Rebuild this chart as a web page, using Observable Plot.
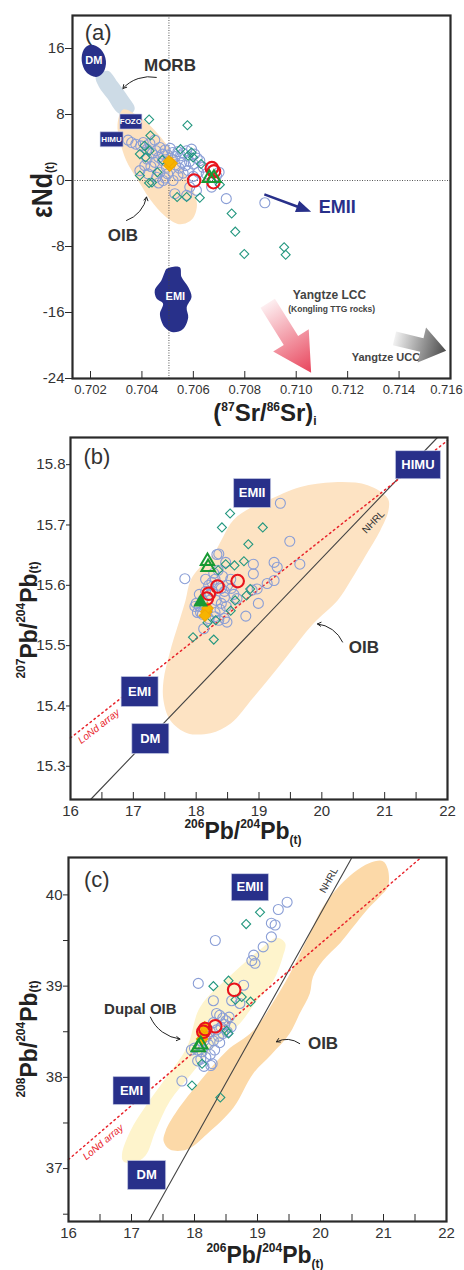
<!DOCTYPE html>
<html><head><meta charset="utf-8">
<script src="https://cdn.jsdelivr.net/npm/d3@7"></script>
<script src="https://cdn.jsdelivr.net/npm/@observablehq/plot@0.6"></script>
<style>
body{margin:0;background:#fff;}
#chart{position:relative;width:464px;height:1270px;background:#fff;}
#chart svg{display:block;}
</style></head><body><div id="chart"></div>
<script>
// ---------------- DATA ----------------
// Panel (a): (87Sr/86Sr)i vs εNd(t)
const A_xTicks = [0.702,0.704,0.706,0.708,0.710,0.712,0.714,0.716];
const A_yTicks = [16,8,0,-8,-16,-24];
const A_circles = [[0.70346,4.9],[0.70360,4.6],[0.70376,4.4],[0.70395,4.2],[0.70405,4.6],[0.70431,4.5],[0.70450,4.9],[0.70420,3.8],[0.70440,3.3],[0.70455,3.6],[0.70470,4.0],[0.70480,3.2],[0.70490,3.7],[0.70500,3.1],[0.70510,3.9],[0.70520,3.4],[0.70530,2.9],[0.70540,3.5],[0.70550,3.0],[0.70560,3.3],[0.70574,3.6],[0.70593,3.8],[0.70605,3.2],[0.70615,2.7],[0.70625,2.4],[0.70638,1.6],[0.70600,2.0],[0.70585,2.3],[0.70570,1.8],[0.70555,2.2],[0.70545,1.5],[0.70530,1.9],[0.70520,2.5],[0.70505,2.2],[0.70495,1.6],[0.70480,2.4],[0.70465,2.8],[0.70450,2.2],[0.70435,1.7],[0.70420,2.6],[0.70411,1.8],[0.70392,1.2],[0.70424,0.8],[0.70457,0.4],[0.70482,0.0],[0.70470,1.0],[0.70500,0.8],[0.70521,0.0],[0.70540,0.6],[0.70560,0.9],[0.70580,1.2],[0.70600,0.5],[0.70620,1.0],[0.70650,0.8],[0.70690,0.6],[0.70700,1.0],[0.70671,-0.8],[0.70612,-1.2],[0.70586,-0.8],[0.70574,-1.8],[0.70528,-1.6],[0.70728,-2.2],[0.70878,-2.7],[0.70490,0.3],[0.70465,-0.3]];
const A_diamonds = [[0.70428,7.4],[0.70577,6.7],[0.70433,5.45],[0.70392,3.2],[0.70414,2.8],[0.70392,0.6],[0.70428,-0.3],[0.70439,-0.25],[0.70593,3.4],[0.70599,2.8],[0.70703,-0.5],[0.70537,-2.0],[0.70574,-2.0],[0.70625,-2.1],[0.70749,-4.0],[0.70763,-6.2],[0.70798,-8.9],[0.70953,-8.1],[0.70959,-9.0],[0.70410,4.2],[0.70430,3.6],[0.70480,2.5],[0.70550,3.8],[0.70580,3.0],[0.70630,2.0],[0.70460,1.0]];
const A_red = [[0.70603,0.0],[0.70672,1.5],[0.70680,1.1],[0.70678,-0.2]];
const A_triangles = [[0.70662,0.3],[0.70680,0.3]];
const A_orange = [[0.70508,1.8],[0.70515,2.1],[0.70505,2.3]];
const A_srRef = 0.70505;
const A_MORB = [[0.70221,12.6],[0.70267,13.3],[0.70306,11.9],[0.70345,10.2],[0.70372,8.7],[0.70345,7.8],[0.70306,8.2],[0.70267,9.9],[0.70232,11.4]];
const A_OIB = [[0.70327,8.6],[0.70380,7.9],[0.70440,6.4],[0.70500,4.2],[0.70550,1.8],[0.70595,-0.8],[0.70614,-3.0],[0.70595,-4.7],[0.70550,-5.3],[0.70497,-4.5],[0.70444,-2.8],[0.70385,0.0],[0.70338,2.5],[0.70315,4.8],[0.70305,6.8]];
const A_DM = [[0.70200,16.44],[0.70240,15.9],[0.70260,14.5],[0.70250,13.13],[0.70222,12.56],[0.70184,13.13],[0.70166,14.5],[0.70174,15.87]];
const A_EMI = [[0.70496,-10.7],[0.70547,-10.5],[0.70554,-11.7],[0.70580,-12.9],[0.70593,-14.1],[0.70574,-15.4],[0.70580,-16.6],[0.70560,-18.0],[0.70521,-18.4],[0.70489,-17.8],[0.70470,-16.2],[0.70482,-14.9],[0.70457,-14.3],[0.70450,-13.3],[0.70476,-12.1],[0.70489,-11.1]];
const A_labels = [
  {x:0.70230,y:17.9,t:"(a)",size:22,weight:"normal",fill:"#333"},
  {x:0.70509,y:13.9,t:"MORB",size:17,weight:"bold",fill:"#333"},
  {x:0.70326,y:-6.7,t:"OIB",size:17,weight:"bold",fill:"#333"},
  {x:0.71160,y:-3.2,t:"EMII",size:18,weight:"bold",fill:"#28308a"},
  {x:0.71129,y:-13.85,t:"Yangtze LCC",size:12,weight:"bold",fill:"#444"},
  {x:0.71138,y:-15.55,t:"(Kongling TTG rocks)",size:8.5,weight:"bold",fill:"#444"},
  {x:0.71349,y:-21.5,t:"Yangtze UCC",size:11,weight:"bold",fill:"#444"}
];
const A_inLabels = [{x:0.70213,y:14.5,t:"DM"},{x:0.70530,y:-14.1,t:"EMI"}];
const A_boxes = [{x:0.70357,y:7.15,t:"FOZO",w:22,h:15},{x:0.70282,y:5.0,t:"HIMU",w:23,h:15}];
const A_curly = [{x1:0.70456,y1:12.5,x2:0.70326,y2:11.15},{x1:0.70340,y1:-4.85,x2:0.70418,y2:-2.0}];
const A_bigArrows = [
  {x1:0.70878,y1:-1.74,x2:0.71060,y2:-3.84,shaft:2.6,headW:12,headL:15,fill:"#28308a"},
  {x1:0.70891,y1:-14.95,x2:0.71060,y2:-23.35,shaft:17,headW:42,headL:38,fill:"url(#gradLCC)"},
  {x1:0.71384,y1:-19.2,x2:0.71585,y2:-20.7,shaft:14,headW:36,headL:25,fill:"url(#gradUCC)"}
];

// Panel (b): 206Pb/204Pb vs 207Pb/204Pb
const B_xTicks = [16,17,18,19,20,21,22];
const B_xMinor = [16.5,17.5,18.5,19.5,20.5,21.5];
const B_yTicks = [15.3,15.4,15.5,15.6,15.7,15.8];
const B_circles = [[19.34,15.736],[19.49,15.673],[19.65,15.635],[19.24,15.638],[19.29,15.630],[18.91,15.635],[18.91,15.619],[18.33,15.651],[18.47,15.638],[17.82,15.611],[19.24,15.608],[19.13,15.603],[18.97,15.594],[18.89,15.592],[18.99,15.570],[18.79,15.549],[18.49,15.539],[18.12,15.528],[18.36,15.542],[18.00,15.570],[18.05,15.565],[18.10,15.575],[18.15,15.590],[18.20,15.600],[18.25,15.605],[18.30,15.610],[18.35,15.600],[18.40,15.595],[18.45,15.590],[18.50,15.600],[18.55,15.610],[18.28,15.620],[18.22,15.585],[18.32,15.575],[18.40,15.570],[18.45,15.580],[18.38,15.560],[18.30,15.555],[18.18,15.560],[18.10,15.552],[18.02,15.555],[18.60,15.585],[18.65,15.578],[18.42,15.615],[18.35,15.625],[18.26,15.590],[18.15,15.610],[18.05,15.585],[17.98,15.565],[18.48,15.565],[18.56,15.595],[18.36,15.652],[18.07,15.555],[18.20,15.545],[18.30,15.548],[18.45,15.545]];
const B_diamonds = [[18.54,15.719],[18.41,15.696],[19.06,15.696],[18.83,15.668],[18.76,15.640],[18.61,15.633],[18.47,15.635],[18.80,15.583],[18.86,15.594],[18.55,15.558],[18.31,15.542],[18.18,15.538],[17.95,15.514],[18.28,15.510],[18.62,15.575],[18.35,15.625]];
const B_red = [[18.66,15.607],[18.34,15.598],[18.20,15.586],[18.17,15.578]];
const B_triangles = [[18.18,15.640],[18.19,15.630]];
const B_triFilled = [[18.07,15.572]];
const B_orange = [[18.16,15.556],[18.18,15.562],[18.14,15.550]];
const B_OIB = [[17.83,15.575],[17.91,15.608],[18.07,15.631],[18.28,15.653],[18.59,15.708],[18.86,15.728],[19.14,15.741],[19.66,15.763],[20.19,15.771],[20.73,15.766],[21.05,15.744],[21.06,15.724],[20.93,15.691],[20.70,15.650],[20.46,15.608],[20.25,15.575],[19.87,15.537],[19.39,15.475],[18.91,15.414],[18.55,15.371],[18.23,15.355],[17.86,15.355],[17.59,15.376],[17.48,15.409],[17.48,15.442],[17.59,15.492],[17.75,15.547]];
const B_NHRL = [[16.32,15.245],[21.84,15.845]];
const B_LoNd = [[16.0,15.347],[22.0,15.840]];
const B_boxes = [{x:21.53,y:15.80,t:"HIMU",w:45,h:28},{x:18.89,y:15.753,t:"EMII",w:37,h:29},{x:17.10,y:15.424,t:"EMI",w:37,h:30},{x:17.27,y:15.346,t:"DM",w:37,h:30}];
const B_labels = [
  {x:16.42,y:15.812,t:"(b)",size:22,weight:"normal",fill:"#333",rot:0},
  {x:20.67,y:15.497,t:"OIB",size:17,weight:"bold",fill:"#333",rot:0},
  {x:20.82,y:15.705,t:"NHRL",size:10,weight:"normal",fill:"#333",rot:-46},
  {x:16.45,y:15.366,t:"LoNd array",size:10,weight:"normal",fill:"#e8222a",rot:-38,italic:true}
];
const B_curly = [{x1:20.33,y1:15.506,x2:19.93,y2:15.536}];

// Panel (c): 206Pb/204Pb vs 208Pb/204Pb
const C_yTicks = [37,38,39,40];
const C_yMinor = [36.5,37.5,38.5,39.5];
const C_circles = [[19.47,39.92],[19.33,39.84],[19.22,39.69],[19.28,39.67],[19.22,39.54],[19.09,39.43],[18.94,39.34],[18.91,39.28],[18.96,39.25],[18.33,39.50],[18.06,39.03],[18.30,38.84],[18.59,38.84],[18.78,39.01],[18.72,38.81],[18.35,38.70],[17.80,37.96],[18.26,38.13],[18.40,38.68],[18.45,38.65],[18.50,38.62],[18.55,38.66],[18.48,38.58],[18.42,38.55],[18.35,38.52],[18.30,38.60],[18.25,38.50],[18.20,38.45],[18.15,38.40],[18.10,38.35],[18.05,38.30],[18.00,38.32],[18.12,38.28],[18.22,38.36],[18.30,38.40],[18.38,38.45],[18.45,38.48],[18.52,38.50],[18.58,38.55],[18.25,38.25],[18.18,38.22],[18.10,38.20],[17.95,38.30],[18.32,38.30],[18.40,38.38],[18.28,38.15],[18.15,38.12],[18.05,38.18]];
const C_diamonds = [[19.04,39.81],[18.82,39.68],[18.30,39.00],[18.54,39.06],[18.75,38.88],[18.89,38.83],[18.51,38.51],[17.96,37.91],[18.41,37.78],[18.12,38.15],[18.54,38.48],[18.65,38.85]];
const C_red = [[18.63,38.96],[18.33,38.56],[18.17,38.53],[18.14,38.50]];
const C_triangles = [[18.06,38.33],[18.10,38.36]];
const C_orange = [[18.14,38.48],[18.16,38.55],[18.12,38.42]];
const C_Dupal = [[16.85,37.16],[16.98,37.41],[17.25,37.71],[17.51,37.96],[17.88,38.33],[18.09,38.77],[18.61,39.14],[19.09,39.43],[19.31,39.53],[19.44,39.47],[19.40,39.32],[19.25,39.06],[18.99,38.84],[18.72,38.59],[18.33,38.35],[17.93,38.02],[17.61,37.74],[17.38,37.41],[17.22,37.14],[17.03,37.06],[16.87,37.08]];
const C_OIB = [[17.51,37.30],[17.54,37.41],[17.72,37.63],[18.09,37.96],[18.51,38.29],[18.93,38.51],[19.30,38.88],[19.57,39.21],[19.83,39.58],[20.04,39.87],[20.25,40.06],[20.52,40.24],[20.78,40.35],[20.99,40.37],[21.07,40.28],[21.07,40.09],[20.94,39.98],[20.73,39.83],[20.52,39.65],[20.31,39.47],[20.04,39.28],[19.88,39.10],[19.83,38.92],[19.67,38.70],[19.51,38.48],[19.22,38.25],[18.93,38.04],[18.62,37.67],[18.20,37.38],[17.88,37.21],[17.61,37.21]];
const C_NHRL = [[17.27,36.42],[20.49,40.40]];
const C_LoNd = [[16.0,37.10],[21.58,40.40]];
const C_boxes = [{x:18.88,y:40.085,t:"EMII",w:37,h:27},{x:17.00,y:37.855,t:"EMI",w:37,h:28},{x:17.24,y:36.93,t:"DM",w:38,h:29}];
const C_labels = [
  {x:16.45,y:40.165,t:"(c)",size:22,weight:"normal",fill:"#333",rot:0},
  {x:20.04,y:38.37,t:"OIB",size:17,weight:"bold",fill:"#333",rot:0},
  {x:17.14,y:38.75,t:"Dupal OIB",size:15,weight:"bold",fill:"#333",rot:0},
  {x:20.13,y:40.16,t:"NHRL",size:10,weight:"normal",fill:"#333",rot:-61},
  {x:16.55,y:37.29,t:"LoNd array",size:10,weight:"normal",fill:"#e8222a",rot:-40,italic:true}
];
const C_curly = [{x1:19.67,y1:38.37,x2:19.30,y2:38.39},{x1:17.30,y1:38.66,x2:17.77,y2:38.42}];

// ---------------- STYLE ----------------
const FONT = '"Liberation Sans", Arial, Helvetica, sans-serif';
const NAVY = "#28308a", BLUE = "#8a9ed6", TEAL = "#23977f", RED = "#e8141c", GREEN = "#189a34", ORANGE = "#f6b400", FRAME = "#2a2a2a";
const X = d => d[0], Y = d => d[1];
const rectSymbol = (w, h) => ({draw(ctx) { ctx.rect(-w/2, -h/2, w, h); }});

function pointMarks(circles, diamonds, orange, red, tris, trisFilled) {
  return [
    Plot.dot(circles, {x: X, y: Y, r: 5, stroke: BLUE, strokeWidth: 1.1, fill: "none"}),
    Plot.dot(diamonds, {x: X, y: Y, symbol: "square", rotate: 45, r: 3.6, stroke: TEAL, strokeWidth: 1.1, fill: "none"}),
    Plot.dot(orange, {x: X, y: Y, symbol: "square", rotate: 45, r: 4.6, fill: ORANGE, stroke: "#f2a800", strokeWidth: 1}),
    Plot.dot(red, {x: X, y: Y, r: 6.3, stroke: RED, strokeWidth: 2.1, fill: "none"}),
    Plot.dot(tris, {x: X, y: Y, symbol: "triangle", r: 5, stroke: GREEN, strokeWidth: 2, fill: "none"}),
    Plot.dot(trisFilled || [], {x: X, y: Y, symbol: "triangle", r: 4.5, stroke: GREEN, strokeWidth: 1.5, fill: GREEN})
  ];
}
function boxMarks(boxes, fontSize) {
  return boxes.flatMap(b => [
    Plot.dot([b], {x: "x", y: "y", symbol: rectSymbol(b.w, b.h), fill: NAVY, stroke: "#cfd3ea", strokeWidth: 0.6}),
    Plot.text([b], {x: "x", y: "y", text: "t", fill: "white", fontWeight: "bold", fontSize, fontFamily: FONT})
  ]);
}
function labelMarks(labels) {
  return labels.map(l => Plot.text([l], {x: "x", y: "y", text: "t", fontSize: l.size, fontWeight: l.weight, fill: l.fill, rotate: l.rot || 0, fontStyle: l.italic ? "italic" : "normal", fontFamily: FONT}));
}
function curlyMarks(arr) {
  return [Plot.arrow(arr, {x1: "x1", y1: "y1", x2: "x2", y2: "y2", bend: -30, headLength: 6, strokeWidth: 1, stroke: "#222"})];
}
function scaleFn(svg, name) {
  const s = svg.scale(name);
  return s.apply ? (v => s.apply(v)) : d3.scaleLinear(s.domain, s.range);
}
function addTitle(svg, x, y, parts, {size = 22, small = 12, rotate = 0, stretch = 1, sup = 0.5, sub = 0.15} = {}) {
  const t = d3.select(svg).append("text")
    .attr("transform", `translate(${x},${y}) rotate(${rotate}) scale(1,${stretch})`)
    .attr("text-anchor", "middle").attr("font-family", FONT).attr("font-weight", "bold")
    .attr("fill", "#222").attr("font-size", size);
  let cur = 0;
  for (const [s, k] of parts) {
    const off = k === "sup" ? -size * sup : k === "sub" ? size * sub : 0;
    t.append("tspan").attr("dy", off - cur).attr("font-size", k ? small : size).text(s);
    cur = off;
  }
}

function makePanel({height, mt, mb, ml, mr, xdom, ydom, xTicks, xMinor = [], xFormat, yTicks, yMinor = [], yFormat, xFont, yFont, yTick = 5, lastDx = 0, back, front}) {
  const ih = height - mt - mb;
  const main = xTicks.slice(0, -1), last = xTicks.slice(-1);
  return Plot.plot({
    width: 464, height, marginTop: mt, marginBottom: mb, marginLeft: ml, marginRight: mr,
    x: {domain: xdom, label: null}, y: {domain: ydom, label: null},
    style: {fontFamily: FONT, color: "#333", background: "white", overflow: "visible"},
    marks: [
      ...back,
      ...front,
      Plot.tickX([...xTicks, ...xMinor], {x: d => d, insetTop: ih - 7, stroke: FRAME, strokeWidth: 1}),
      Plot.axisX({ticks: main, tickSize: 0, tickPadding: 6, tickFormat: xFormat, fontSize: xFont, fill: "#333"}),
      Plot.axisX({ticks: last, tickSize: 0, tickPadding: 6, tickFormat: xFormat, fontSize: xFont, fill: "#333", dx: lastDx}),
      Plot.axisY({ticks: yTicks, tickSize: yTick, tickPadding: 1, tickFormat: yFormat, fontSize: yFont, fill: "#333", stroke: FRAME}),
      ...(yMinor.length ? [Plot.axisY({ticks: yMinor, tickSize: yTick, tickFormat: () => "", stroke: FRAME})] : []),
      Plot.frame({stroke: FRAME, strokeWidth: 2.2})
    ]
  });
}

// ---------------- PANEL A ----------------
const svgA = makePanel({
  height: 425, mt: 15, mb: 47, ml: 72, mr: 14,
  xdom: [0.7013, 0.716], ydom: [-24, 20],
  xTicks: A_xTicks, xFormat: d3.format(".3f"), yTicks: A_yTicks, yFormat: d => String(d),
  xFont: 13, yFont: 15, yTick: 7, lastDx: -4,
  back: [
    Plot.line(A_MORB, {x: X, y: Y, curve: "catmull-rom-closed", fill: "#cddbe6", stroke: "none"}),
    Plot.line(A_OIB, {x: X, y: Y, curve: "catmull-rom-closed", fill: "#fde1be", stroke: "none"}),
    Plot.line(A_DM, {x: X, y: Y, curve: "catmull-rom-closed", fill: NAVY, stroke: "none"}),
    Plot.line(A_EMI, {x: X, y: Y, curve: "catmull-rom-closed", fill: NAVY, stroke: "none"}),
    Plot.ruleX([A_srRef], {stroke: "#444", strokeWidth: 0.9, strokeDasharray: "1,1.5"}),
    Plot.ruleY([0], {stroke: "#444", strokeWidth: 0.9, strokeDasharray: "1,1.5"})
  ],
  front: [
    ...pointMarks(A_circles, A_diamonds, A_orange, A_red, A_triangles),
    ...boxMarks(A_boxes, 8),
    Plot.text(A_inLabels, {x: "x", y: "y", text: "t", fill: "white", fontWeight: "bold", fontSize: 11, fontFamily: FONT}),
    ...labelMarks(A_labels),
    ...curlyMarks(A_curly)
  ]
});

// gradients + big arrows for panel A
{
  const s = d3.select(svgA);
  const defs = s.insert("defs", ":first-child");
  const g1 = defs.append("linearGradient").attr("id", "gradLCC").attr("x1", 0).attr("x2", 1).attr("y1", 0).attr("y2", 0);
  g1.append("stop").attr("offset", "0%").attr("stop-color", "#fdeef0");
  g1.append("stop").attr("offset", "100%").attr("stop-color", "#e8445b");
  const g2 = defs.append("linearGradient").attr("id", "gradUCC").attr("x1", 0).attr("x2", 1).attr("y1", 0).attr("y2", 0);
  g2.append("stop").attr("offset", "0%").attr("stop-color", "#f2f2f2");
  g2.append("stop").attr("offset", "100%").attr("stop-color", "#4a4a4a");
  const sx = scaleFn(svgA, "x"), sy = scaleFn(svgA, "y");
  const layer = s.append("g");
  for (const a of A_bigArrows) {
    const X1 = sx(a.x1), Y1 = sy(a.y1), X2 = sx(a.x2), Y2 = sy(a.y2);
    const L = Math.hypot(X2 - X1, Y2 - Y1), ang = Math.atan2(Y2 - Y1, X2 - X1) * 180 / Math.PI;
    const p = [[0, -a.shaft/2], [L - a.headL, -a.shaft/2], [L - a.headL, -a.headW/2], [L, 0], [L - a.headL, a.headW/2], [L - a.headL, a.shaft/2], [0, a.shaft/2]];
    layer.append("path").attr("d", "M" + p.map(q => q.join(",")).join("L") + "Z")
      .attr("transform", `translate(${X1},${Y1}) rotate(${ang})`).attr("fill", a.fill);
  }
  addTitle(svgA, 52, 190, [["ε", ""], ["Nd", ""], ["(t)", "sub"]], {size: 25, small: 11, rotate: -90, stretch: 1.15, sub: 0.08});
  addTitle(svgA, 265, 421, [["(", ""], ["87", "sup"], ["Sr/", ""], ["86", "sup"], ["Sr)", ""], ["i", "sub"]], {size: 24, small: 12, stretch: 1.0, sup: 0.42, sub: 0.15});
}

// ---------------- PANEL B ----------------
const svgB = makePanel({
  height: 425, mt: 12, mb: 51, ml: 70, mr: 17,
  xdom: [16, 22], ydom: [15.245, 15.845],
  xTicks: B_xTicks, xMinor: B_xMinor, xFormat: d => String(d), yTicks: B_yTicks, yFormat: d3.format(".1f"),
  xFont: 15, yFont: 15, yTick: 4,
  back: [
    Plot.line(B_OIB, {x: X, y: Y, curve: "catmull-rom-closed", fill: "#fde3c3", stroke: "none"}),
    Plot.line(B_NHRL, {x: X, y: Y, stroke: "#444", strokeWidth: 1.1}),
    Plot.line(B_LoNd, {x: X, y: Y, stroke: "#e8222a", strokeWidth: 1.5, strokeDasharray: "1.5,3.5"})
  ],
  front: [
    ...pointMarks(B_circles, B_diamonds, B_orange, B_red, B_triangles, B_triFilled),
    ...boxMarks(B_boxes, 13),
    ...labelMarks(B_labels),
    ...curlyMarks(B_curly)
  ]
});
addTitle(svgB, 37, 195, [["207", "sup"], ["Pb/", ""], ["204", "sup"], ["Pb", ""], ["(t)", "sub"]], {size: 23, small: 12, rotate: -90, stretch: 1.05, sup: 0.5, sub: 0.05});
addTitle(svgB, 243, 414, [["206", "sup"], ["Pb/", ""], ["204", "sup"], ["Pb", ""], ["(t)", "sub"]], {size: 23, small: 12, stretch: 1.05, sup: 0.45, sub: 0.2});

// ---------------- PANEL C ----------------
const svgC = makePanel({
  height: 420, mt: 7, mb: 49, ml: 68, mr: 18,
  xdom: [16, 22], ydom: [36.42, 40.41],
  xTicks: B_xTicks, xMinor: B_xMinor, xFormat: d => String(d), yTicks: C_yTicks, yMinor: C_yMinor, yFormat: d => String(d),
  xFont: 15, yFont: 15, yTick: 5,
  back: [
    Plot.line(C_Dupal, {x: X, y: Y, curve: "catmull-rom-closed", fill: "#fef4cc", stroke: "none"}),
    Plot.line(C_OIB, {x: X, y: Y, curve: "catmull-rom-closed", fill: "#fcd9a8", stroke: "none"}),
    Plot.line(C_NHRL, {x: X, y: Y, stroke: "#444", strokeWidth: 1.1}),
    Plot.line(C_LoNd, {x: X, y: Y, stroke: "#e8222a", strokeWidth: 1.5, strokeDasharray: "1.5,3.5"})
  ],
  front: [
    ...pointMarks(C_circles, C_diamonds, C_orange, C_red, C_triangles),
    ...boxMarks(C_boxes, 13),
    ...labelMarks(C_labels),
    ...curlyMarks(C_curly)
  ]
});
addTitle(svgC, 37, 189, [["208", "sup"], ["Pb/", ""], ["204", "sup"], ["Pb", ""], ["(t)", "sub"]], {size: 23, small: 12, rotate: -90, stretch: 1.05, sup: 0.5, sub: 0.05});
addTitle(svgC, 265, 413, [["206", "sup"], ["Pb/", ""], ["204", "sup"], ["Pb", ""], ["(t)", "sub"]], {size: 23, small: 12, stretch: 1.05, sup: 0.45, sub: 0.2});

const chart = document.getElementById("chart");
chart.append(svgA, svgB, svgC);
</script></body></html>
